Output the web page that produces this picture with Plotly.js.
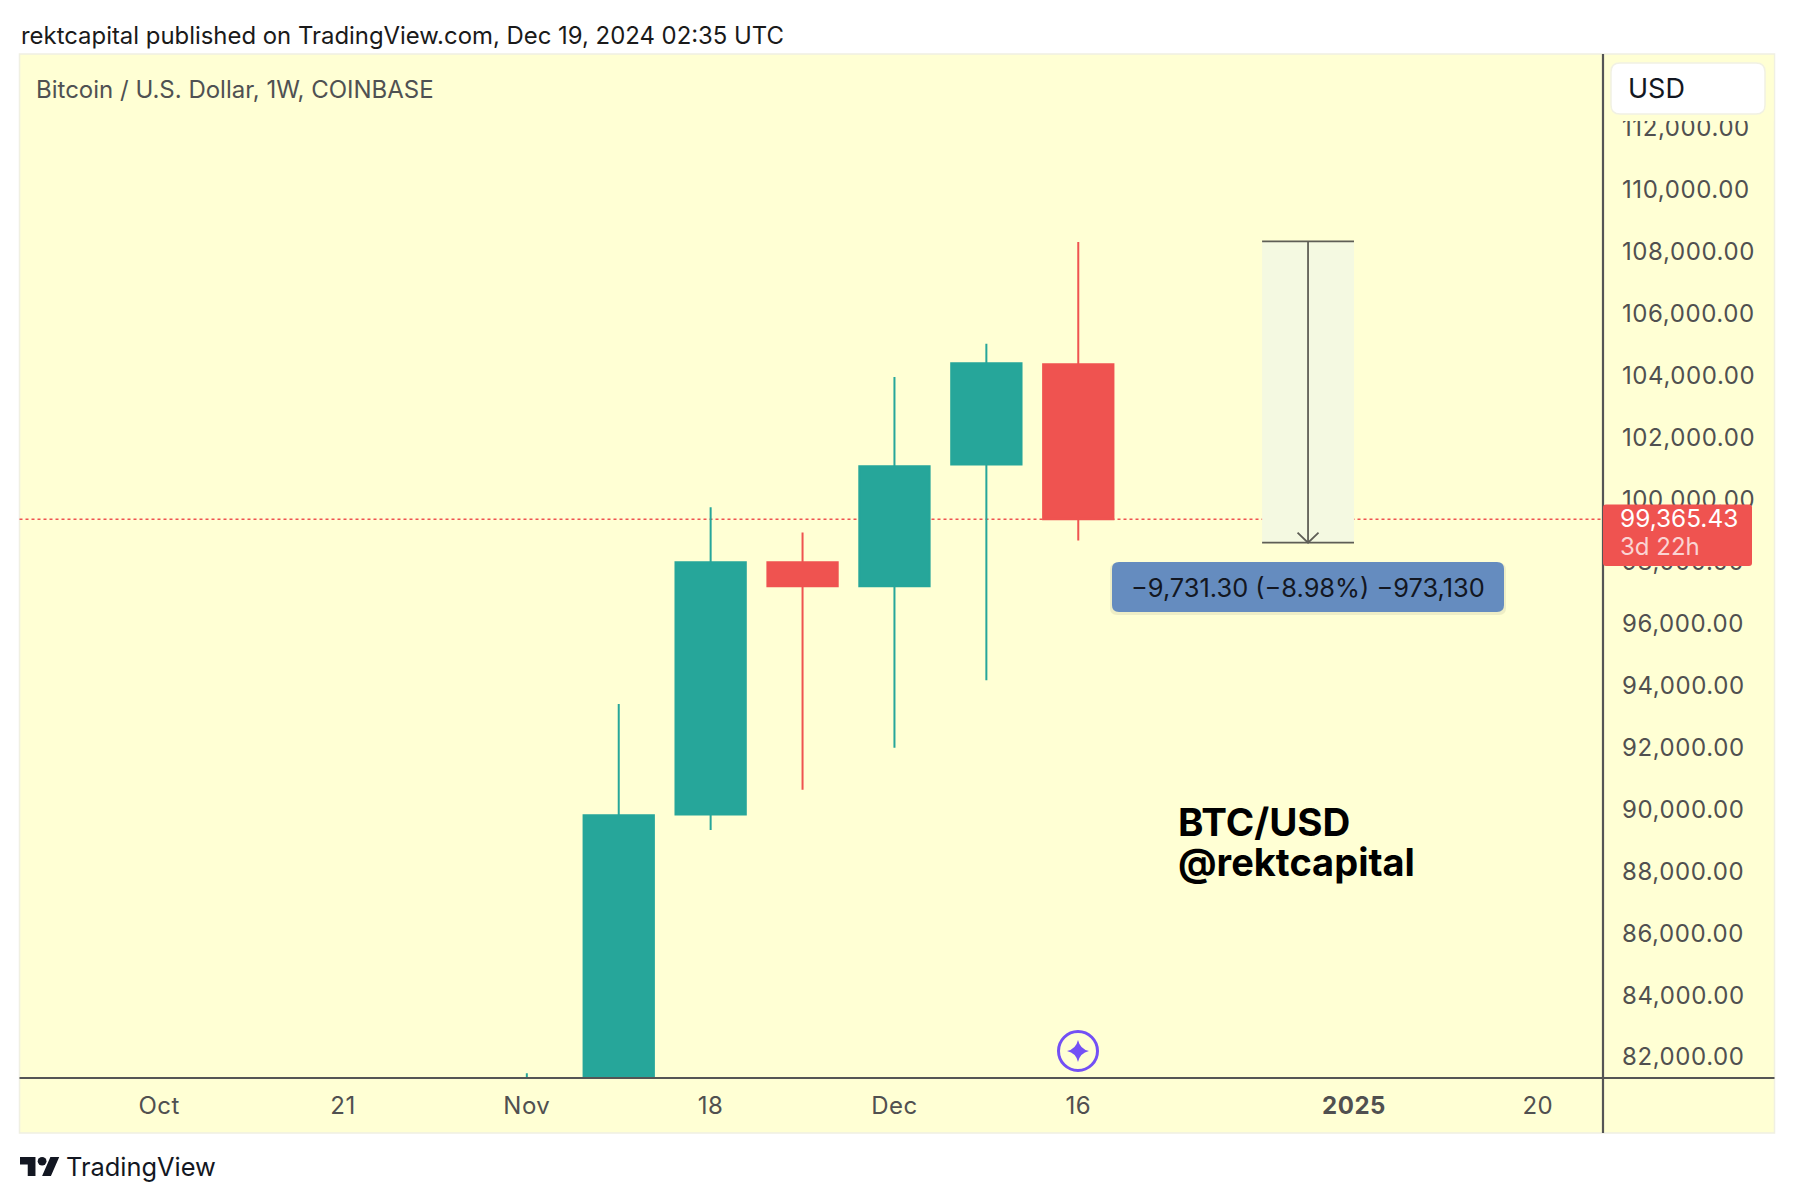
<!DOCTYPE html>
<html>
<head>
<meta charset="utf-8">
<script src="https://cdn.plot.ly/plotly-3.0.1.min.js"></script>
<style>
html,body{margin:0;padding:0;background:#fff;}
#chart{width:1794px;height:1202px;}
.ytick text{letter-spacing:0.6px;}
.xtick text{letter-spacing:0.5px;}
</style>
</head>
<body>
<div id="chart"></div>
<script>
// ---- data ----
const weeks  = ['2024-11-04','2024-11-11','2024-11-18','2024-11-25','2024-12-02','2024-12-09','2024-12-16'];
const opens  = [68700, 80400, 89830, 97980, 97200, 101130, 104370];
const highs  = [81480, 93400, 99750, 98940, 103960, 105030, 108320];
const lows   = [66800, 76700, 89330, 90630, 91990, 94170, 98680];
const closes = [80400, 89810, 97980, 97200, 101080, 104400, 99365.43];
const lastPrice = 99365.43;
const measureTop = 108340;
const measureBottom = 98608.7;
const measureDates = ['2024-12-30','2025-01-06'];
const measureMid = '2025-01-02 12:00';
const xTickDates = ['2024-10-07','2024-10-21','2024-11-04','2024-11-18','2024-12-02','2024-12-16','2025-01-06','2025-01-20'];
const xTickLabels = ['Oct','21','Nov','18','Dec','16','<b>2025</b>','20'];
const yTicks = [82000,84000,86000,88000,90000,92000,94000,96000,98000,100000,102000,104000,106000,108000,110000,112000];
const yTickLabels = ['82,000.00','84,000.00','86,000.00','88,000.00','90,000.00','92,000.00','94,000.00','96,000.00','98,000.00','100,000.00','102,000.00','104,000.00','106,000.00','108,000.00','110,000.00','112,000.00'];
const xRange = ['2024-09-26 08:38','2025-01-24 23:10'];
const yRange = [81325, 114387];

// ---- layout constants ----
const W = 1794, H = 1202;
const FONT = 'Inter, "Noto Sans", sans-serif';
const UP = '#26A69A', DOWN = '#EF5350', PANEL = '#FFFFD4', AXIS = '#555555', LABEL = '#505050', INK = '#131722';
const L = 19.5, R = 1603, RR = 1774.5, T = 54, B = 1078, BB = 1133;
const px = v => v / W;
const py = v => 1 - v / H;
const P = (x, y) => px(x).toFixed(5) + ',' + py(y).toFixed(5);
function rrect(x0, y0, x1, y1, r) {
  return 'M' + P(x0 + r, y0) + ' L' + P(x1 - r, y0) + ' Q' + P(x1, y0) + ' ' + P(x1, y0 + r) +
    ' L' + P(x1, y1 - r) + ' Q' + P(x1, y1) + ' ' + P(x1 - r, y1) +
    ' L' + P(x0 + r, y1) + ' Q' + P(x0, y1) + ' ' + P(x0, y1 - r) +
    ' L' + P(x0, y0 + r) + ' Q' + P(x0, y0) + ' ' + P(x0 + r, y0) + ' Z';
}
const paperShape = (o) => Object.assign({xref: 'paper', yref: 'paper'}, o);
const plain = {width: 0};

// TradingView mark, drawn in a 36 x 18 box
const lg = (x, y) => P(20 + x * 1.105, 1157 + (y - 4) * 1.055);
const logoPath = 'M' + lg(0,4) + ' L' + lg(14,4) + ' L' + lg(14,22) + ' L' + lg(7,22) + ' L' + lg(7,11) + ' L' + lg(0,11) + ' Z ' +
  'M' + lg(27.5,4) + ' L' + lg(35.5,4) + ' L' + lg(28,22) + ' L' + lg(20,22) + ' Z';

const cx = 1078, cy = 1051, s = 11, k = 2;
const starPath = 'M' + P(cx, cy - s) + ' Q' + P(cx + k, cy - k) + ' ' + P(cx + s, cy) +
  ' Q' + P(cx + k, cy + k) + ' ' + P(cx, cy + s) + ' Q' + P(cx - k, cy + k) + ' ' + P(cx - s, cy) +
  ' Q' + P(cx - k, cy - k) + ' ' + P(cx, cy - s) + ' Z';

const shapes = [
  // panel
  paperShape({type:'rect', layer:'below', x0:px(L), x1:px(RR), y0:py(T), y1:py(BB), fillcolor:PANEL, line:{color:'#F0F0E2', width:1.5}}),
  // measure tool fill
  {type:'rect', layer:'below', xref:'x', yref:'y', x0:measureDates[0], x1:measureDates[1], y0:measureBottom, y1:measureTop, fillcolor:'#F4F9E1', line:plain},
  // last price line
  {type:'line', layer:'below', xref:'paper', yref:'y', x0:px(L), x1:px(R), y0:lastPrice, y1:lastPrice, line:{color:DOWN, width:1.5, dash:'3px,3px'}},
  // measure tool lines
  {type:'line', xref:'x', yref:'y', x0:measureDates[0], x1:measureDates[1], y0:measureTop, y1:measureTop, line:{color:'#5E5E56', width:1.8}},
  {type:'line', xref:'x', yref:'y', x0:measureDates[0], x1:measureDates[1], y0:measureBottom, y1:measureBottom, line:{color:'#5E5E56', width:1.8}},
  {type:'line', xref:'x', yref:'y', x0:measureMid, x1:measureMid, y0:measureTop, y1:measureBottom, line:{color:'#5E5E56', width:1.8}},
  {type:'path', xref:'x', yref:'y', xsizemode:'pixel', ysizemode:'pixel', xanchor:measureMid, yanchor:measureBottom,
   path:'M-10.5,10 L0,0 L10.5,10', fillcolor:'rgba(0,0,0,0)', line:{color:'#5E5E56', width:1.8}},
  // strip that hides the top of the highest price label, as in the reference
  paperShape({type:'rect', x0:px(R+1), x1:px(RR-1), y0:py(T+1), y1:py(121), fillcolor:PANEL, line:plain}),
  // axes frame
  paperShape({type:'line', x0:px(L), x1:px(RR), y0:py(B), y1:py(B), line:{color:AXIS, width:2.2}}),
  paperShape({type:'line', x0:px(R), x1:px(R), y0:py(T), y1:py(BB), line:{color:AXIS, width:2.2}}),
  // USD box
  paperShape({type:'path', path:rrect(1611,63,1765,114,9), fillcolor:'#FFFFFF', line:{color:'#F1F1E3', width:1.5}}),
  // last price tag
  paperShape({type:'path', path:rrect(1603,504.5,1752,566,3), fillcolor:DOWN, line:plain}),
  // measure label
  paperShape({type:'path', path:rrect(1110,563,1506,615,7), fillcolor:'rgba(90,90,80,0.10)', line:plain}),
  paperShape({type:'path', path:rrect(1112,562,1504,612,7), fillcolor:'#658CBF', line:plain}),
  // star badge
  paperShape({type:'circle', x0:px(cx-19.5), x1:px(cx+19.5), y0:py(cy-19.5), y1:py(cy+19.5), fillcolor:'rgba(0,0,0,0)', line:{color:'#7350F5', width:3}}),
  paperShape({type:'path', path:starPath, fillcolor:'#7350F5', line:plain}),
  // logo
  paperShape({type:'path', path:logoPath, fillcolor:INK, line:plain}),
  paperShape({type:'circle', x0:px(20+20*1.105-4.4), x1:px(20+20*1.105+4.4), y0:py(1161.2-4.2), y1:py(1161.2+4.2), fillcolor:INK, line:plain})
];

const note = (x, y, text, size, color, extra) => Object.assign({
  xref:'paper', yref:'paper', x:px(x), y:py(y), text:text, showarrow:false,
  xanchor:'left', yanchor:'middle', borderpad:0, borderwidth:0,
  font:{family:FONT, size:size, color:color}
}, extra || {});

const annotations = [
  note(20.5, 36, 'rektcapital published on TradingView.com, Dec 19, 2024 02:35 UTC', 23.9, '#1A1A1A'),
  note(35.5, 89.5, 'Bitcoin / U.S. Dollar, 1W, COINBASE', 24, '#4F5152'),
  note(1628, 88.5, 'USD', 27, INK),
  note(1620, 518, '99,365.43', 24.4, '#FFFFFF'),
  note(1620, 546, '3d 22h', 24, '#FAD4D3'),
  note(1308, 587.5, '\u22129,731.30 (\u22128.98%) \u2212973,130', 25.4, INK, {xanchor:'center'}),
  note(1178, 822, '<b>BTC/USD</b>', 38.5, '#000000'),
  note(1178, 862, '<b>@rektcapital</b>', 38, '#000000'),
  note(66, 1166, 'TradingView', 25.4, INK)
];

Plotly.newPlot('chart', [{
  type:'candlestick', x:weeks, open:opens, high:highs, low:lows, close:closes,
  increasing:{line:{color:UP, width:2}, fillcolor:UP},
  decreasing:{line:{color:DOWN, width:2}, fillcolor:DOWN},
  whiskerwidth:0, showlegend:false, hoverinfo:'skip'
}], {
  width:W, height:H, margin:{l:0, r:0, t:0, b:0}, paper_bgcolor:'#FFFFFF', plot_bgcolor:'rgba(0,0,0,0)',
  showlegend:false, dragmode:false, boxgap:0.235, boxgroupgap:0, boxmode:'overlay',
  font:{family:FONT, color:LABEL},
  xaxis:{type:'date', domain:[px(L), px(R)], range:xRange, anchor:'y', rangeslider:{visible:false},
    showgrid:false, zeroline:false, showline:false, ticks:'', tickmode:'array', tickvals:xTickDates, ticktext:xTickLabels,
    tickangle:0, tickfont:{family:FONT, size:24, color:LABEL}, ticklabelstandoff:11, fixedrange:true},
  yaxis:{domain:[py(B), py(T)], range:yRange, side:'right', anchor:'x',
    showgrid:false, zeroline:false, showline:false, ticks:'', tickmode:'array', tickvals:yTicks, ticktext:yTickLabels,
    tickfont:{family:FONT, size:24, color:LABEL}, ticklabelstandoff:18, fixedrange:true},
  shapes:shapes, annotations:annotations
}, {displayModeBar:false, staticPlot:true});
</script>
</body>
</html>
